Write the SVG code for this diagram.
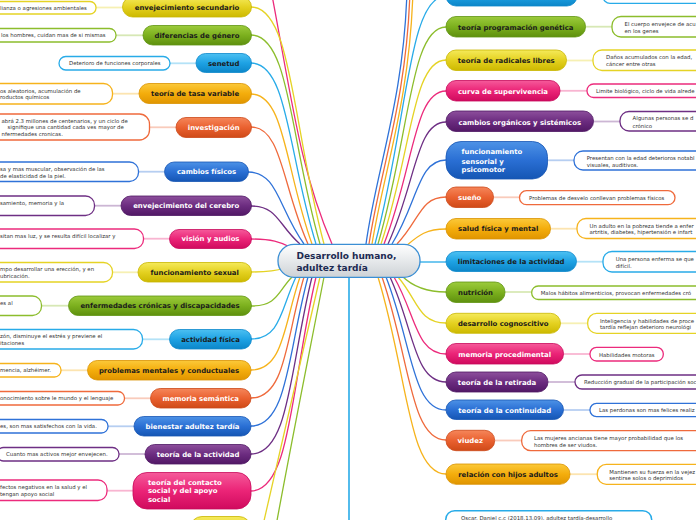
<svg xmlns="http://www.w3.org/2000/svg" width="696" height="520" viewBox="0 0 696 520">
<style>
.t{font-family:"DejaVu Sans",Verdana,sans-serif;font-weight:bold;font-size:6.9px;text-anchor:middle}
.tl{font-family:"DejaVu Sans",Verdana,sans-serif;font-weight:bold;font-size:6.9px}
.dk{fill:#1b1b1b}.wt{fill:#ffffff}
.lt{font-family:"DejaVu Sans",Verdana,sans-serif;font-size:5.4px;fill:#333333}
.leaf{fill:#ffffff;stroke-width:1.3}
.pill{stroke-width:0.8}
.c{fill:none;stroke-width:1.3}
.ll{fill:none;stroke-width:1.8;stroke-opacity:0.35}
.sy{stroke:#e5d325}.sg{stroke:#8cbd2c}.sl{stroke:#28abe8}.so{stroke:#f6b31c}.sr{stroke:#ef6a3c}.sb{stroke:#2f72d8}.sp{stroke:#6e2f84}.sk{stroke:#ec2b7c}
.fy{fill:url(#gy);stroke:#c9b600}.fg{fill:url(#gg);stroke:#5f9412}.fl{fill:url(#gl);stroke:#0d88cc}.fo{fill:url(#go);stroke:#d99200}.fr{fill:url(#gr);stroke:#cc4818}.fb{fill:url(#gb);stroke:#1756b4}.fp{fill:url(#gp);stroke:#4e1763}.fk{fill:url(#gk);stroke:#c8095a}
</style>
<defs>
<linearGradient id="gy" x1="0" y1="0" x2="0" y2="1"><stop offset="0" stop-color="#f5ea5a"/><stop offset="0.5" stop-color="#e4d120"/><stop offset="1" stop-color="#cdb900"/></linearGradient>
<linearGradient id="gg" x1="0" y1="0" x2="0" y2="1"><stop offset="0" stop-color="#9ccb3c"/><stop offset="0.5" stop-color="#7cb01e"/><stop offset="1" stop-color="#5e900e"/></linearGradient>
<linearGradient id="gl" x1="0" y1="0" x2="0" y2="1"><stop offset="0" stop-color="#4cc0f2"/><stop offset="0.5" stop-color="#1ea2e4"/><stop offset="1" stop-color="#0c86c8"/></linearGradient>
<linearGradient id="go" x1="0" y1="0" x2="0" y2="1"><stop offset="0" stop-color="#fbc93a"/><stop offset="0.5" stop-color="#f4ad0c"/><stop offset="1" stop-color="#e09500"/></linearGradient>
<linearGradient id="gr" x1="0" y1="0" x2="0" y2="1"><stop offset="0" stop-color="#f5865a"/><stop offset="0.5" stop-color="#ea6130"/><stop offset="1" stop-color="#cf4a18"/></linearGradient>
<linearGradient id="gb" x1="0" y1="0" x2="0" y2="1"><stop offset="0" stop-color="#4d92e6"/><stop offset="0.5" stop-color="#2a6fd4"/><stop offset="1" stop-color="#1556b4"/></linearGradient>
<linearGradient id="gp" x1="0" y1="0" x2="0" y2="1"><stop offset="0" stop-color="#8d4f9c"/><stop offset="0.5" stop-color="#6c2c80"/><stop offset="1" stop-color="#521866"/></linearGradient>
<linearGradient id="gk" x1="0" y1="0" x2="0" y2="1"><stop offset="0" stop-color="#f55a9a"/><stop offset="0.5" stop-color="#eb2477"/><stop offset="1" stop-color="#d00a5e"/></linearGradient>
<linearGradient id="gc" x1="0" y1="0" x2="0" y2="1"><stop offset="0" stop-color="#ffffff"/><stop offset="0.5" stop-color="#e6e9eb"/><stop offset="1" stop-color="#cdd2d6"/></linearGradient>
</defs>
<rect width="696" height="520" fill="#ffffff"/>
<g id="connectors">
<path class="c sk" d="M271,-10 C292,100 300,170 332,244"/>
<path class="c sy" d="M251,7 C292,7 292,125 324,244"/>
<path class="c sg" d="M251,35 C290,35 290,140 320,244"/>
<path class="c sl" d="M251,63 C288,63 288,154 316,244"/>
<path class="c so" d="M251,94 C285,94 285,169 312,244"/>
<path class="c sr" d="M251,127 C282,127 282,186 308,244"/>
<path class="c sb" d="M248,172 C278,172 278,208 304,244"/>
<path class="c sp" d="M251,206 C278,206 278,225 300,244"/>
<path class="c sk" d="M251,239 C272,239 280,242 290,247"/>
<path class="c sy" d="M251,272 C268,272 276,271 284,268"/>
<path class="c sg" d="M251,306 C278,306 278,291 292,277"/>
<path class="c sl" d="M251,339 C281,339 281,308 296,277"/>
<path class="c so" d="M251,370 C284,370 284,323 300,277"/>
<path class="c sr" d="M251,398 C286,398 286,337 304,277"/>
<path class="c sb" d="M251,426 C288,426 288,351 308,277"/>
<path class="c sp" d="M251,454 C290,454 290,365 312,277"/>
<path class="c sk" d="M251,491 C291,491 291,384 316,277"/>
<path class="c sy" d="M255,560 C268,500 292,400 320,277"/>
<path class="c sg" d="M270,560 C280,500 300,400 324,277"/>
<path class="c sb" d="M407,-10 C404,100 376,170 366,244"/>
<path class="c sr" d="M410,-10 C407,100 380,170 369,244"/>
<path class="c so" d="M413,-10 C410,100 384,170 372,244"/>
<path class="c sl" d="M446,-4 C408,-4 408,120 375,244"/>
<path class="c sg" d="M446,27 C410,27 410,135 378,244"/>
<path class="c sy" d="M446,60 C412,60 412,152 381,244"/>
<path class="c sk" d="M446,91 C414,91 414,167 384,244"/>
<path class="c sp" d="M446,122 C416,122 416,183 388,244"/>
<path class="c sb" d="M446,160 C418,160 418,202 392,244"/>
<path class="c sr" d="M446,197 C420,197 420,220 397,244"/>
<path class="c so" d="M446,229 C425,229 418,236 406,246"/>
<path class="c sl" d="M420,262 L446,262"/>
<path class="c sg" d="M446,292 C425,292 412,286 402,276"/>
<path class="c sy" d="M446,323 C418,323 418,300 398,277"/>
<path class="c sk" d="M446,354 C416,354 416,315 394,277"/>
<path class="c sp" d="M446,382 C414,382 414,329 390,277"/>
<path class="c sb" d="M446,410 C412,410 412,343 386,277"/>
<path class="c sr" d="M446,440 C410,440 410,358 382,277"/>
<path class="c so" d="M446,474 C408,474 408,375 378,277"/>
<path class="c sl" d="M349,277 L349,520" style="stroke-width:1.6"/>
<path class="ll sy" d="M96,7.5 L122.5,7.5"/>
<path class="ll sg" d="M116,35.3 L143,35.3"/>
<path class="ll sl" d="M170,63.3 L196,63.3"/>
<path class="ll so" d="M112.5,93.7 L139,93.7"/>
<path class="ll sr" d="M149.5,127.3 L176,127.3"/>
<path class="ll sb" d="M138.5,171.7 L164.5,171.7"/>
<path class="ll sp" d="M94.5,205.7 L121,205.7"/>
<path class="ll sk" d="M143.5,238.7 L169.5,238.7"/>
<path class="ll sy" d="M112.5,272.3 L138,272.3"/>
<path class="ll sg" d="M41.5,305.7 L68.5,305.7"/>
<path class="ll sl" d="M142.5,339.3 L169.5,339.3"/>
<path class="ll so" d="M61,370.3 L87.5,370.3"/>
<path class="ll sr" d="M124.5,398.3 L150.5,398.3"/>
<path class="ll sb" d="M108,426.3 L134,426.3"/>
<path class="ll sp" d="M119,454 L145,454"/>
<path class="ll sk" d="M107,490.7 L133,490.7"/>
<path class="ll sg" d="M585.5,26.7 L612,26.7"/>
<path class="ll sy" d="M566.5,60.5 L593,60.5"/>
<path class="ll sk" d="M560,90.8 L587,90.8"/>
<path class="ll sp" d="M593.5,121.5 L620,121.5"/>
<path class="ll sb" d="M547.5,160.3 L574,160.3"/>
<path class="ll sr" d="M493.5,197.3 L519.5,197.3"/>
<path class="ll so" d="M550.5,228.7 L577,228.7"/>
<path class="ll sl" d="M576.5,261.7 L603,261.7"/>
<path class="ll sg" d="M505,292 L531.7,292"/>
<path class="ll sy" d="M560.5,323.3 L587.7,323.3"/>
<path class="ll sk" d="M563.5,354 L590,354"/>
<path class="ll sp" d="M548,382 L575,382"/>
<path class="ll sb" d="M563.5,410 L590,410"/>
<path class="ll sr" d="M495,440.5 L521.7,440.5"/>
<path class="ll so" d="M570,474.2 L597.3,474.2"/>
</g>
<g id="center">
<rect x="278" y="244.3" width="142" height="33" rx="16" fill="url(#gc)" stroke="#3b8fd4" stroke-width="1.3"/>
<text x="296.5" y="259.3" style="font-family:'DejaVu Sans',Verdana,sans-serif;font-weight:bold;font-size:9px;fill:#1c2a52">Desarrollo humano,</text>
<text x="296.5" y="270.6" style="font-family:'DejaVu Sans',Verdana,sans-serif;font-weight:bold;font-size:9px;fill:#1c2a52">adultez tardía</text>
</g>
<g id="n-env-sec">
<rect class="pill fy" x="122.5" y="-3" width="129" height="20" rx="10"/>
<text class="t dk" x="187" y="9.8">envejecimiento secundario</text>
<rect class="leaf sy" x="-20" y="1.5" width="116" height="12.5" rx="6"/>
<text class="lt" x="0" y="9.6">lianza o agresiones ambientales</text>
</g>
<g id="n-dif-genero">
<rect class="pill fg" x="143" y="25.5" width="108.5" height="19.5" rx="9.75"/>
<text class="t dk" x="197" y="37.8">diferencias de género</text>
<rect class="leaf sg" x="-20" y="28.5" width="136" height="13.5" rx="6.5"/>
<text class="lt" x="1" y="37.2">los hombres, cuidan mas de si mismas</text>
</g>
<g id="n-senetud">
<rect class="pill fl" x="196" y="53.5" width="55.5" height="19" rx="9.5"/>
<text class="t dk" x="223.7" y="65.8">senetud</text>
<rect class="leaf sl" x="59" y="56.5" width="111" height="13.5" rx="6.75"/>
<text class="lt" x="69" y="65.1">Deterioro de funciones corporales</text>
</g>
<g id="n-tasa-variable">
<rect class="pill fo" x="139" y="83.5" width="112.5" height="20" rx="10"/>
<text class="t dk" x="195" y="96.2">teoría de tasa variable</text>
<rect class="leaf so" x="-20" y="83.5" width="132.5" height="20.5" rx="9"/>
<text class="lt" x="0" y="92.6">os aleatorios, acumulación de</text>
<text class="lt" x="0" y="99.3">roductos químicos</text>
</g>
<g id="n-investigacion">
<rect class="pill fr" x="176" y="117.5" width="75.5" height="20" rx="10"/>
<text class="t wt" x="213.7" y="129.8">investigación</text>
<rect class="leaf sr" x="-20" y="114" width="169.5" height="26" rx="10"/>
<text class="lt" x="1.5" y="122.6">abrá 2.3 millones de centenarios, y un ciclo de</text>
<text class="lt" x="7.5" y="129.2">signifique una cantidad cada ves mayor de</text>
<text class="lt" x="1.5" y="136.2">nfermedades cronicas.</text>
</g>
<g id="n-cambios-fisicos">
<rect class="pill fb" x="164.5" y="162" width="84" height="19.5" rx="9.75"/>
<text class="t wt" x="206.5" y="174.2">cambios físicos</text>
<rect class="leaf sb" x="-20" y="162" width="158.5" height="19.5" rx="9"/>
<text class="lt" x="0" y="171.2">sa y mas muscular, observación de las</text>
<text class="lt" x="0" y="177.8">de elasticidad de la piel.</text>
</g>
<g id="n-env-cerebro">
<rect class="pill fp" x="121" y="196" width="130.5" height="19.5" rx="9.75"/>
<text class="t wt" x="186.2" y="208.2">envejecimiento del cerebro</text>
<rect class="leaf sp" x="-20" y="196" width="114.5" height="19.5" rx="9"/>
<text class="lt" x="0" y="205">samiento, memoria y la</text>
</g>
<g id="n-vision">
<rect class="pill fk" x="169.5" y="229.5" width="82" height="19" rx="9.5"/>
<text class="t wt" x="210.5" y="241.2">visión y audios</text>
<rect class="leaf sk" x="-20" y="229" width="163.5" height="19.5" rx="9"/>
<text class="lt" x="0" y="238">sitan mas luz, y se resulta difícil localizar y</text>
</g>
<g id="n-func-sexual">
<rect class="pill fy" x="138" y="262.5" width="113.5" height="19.5" rx="9.75"/>
<text class="t dk" x="194.7" y="274.8">funcionamiento sexual</text>
<rect class="leaf sy" x="-20" y="262.5" width="132.5" height="19.5" rx="9"/>
<text class="lt" x="0" y="270.9">mpo desarrollar una erección, y en</text>
<text class="lt" x="0" y="277.9">ubricación.</text>
</g>
<g id="n-enf-cronicas">
<rect class="pill fg" x="68.5" y="296" width="183" height="19.5" rx="9.75"/>
<text class="t dk" x="160" y="308.2">enfermedades crónicas y discapacidades</text>
<rect class="leaf sg" x="-20" y="296" width="61.5" height="19.5" rx="9"/>
<text class="lt" x="0" y="304.6">es al</text>
</g>
<g id="n-actividad-fisica">
<rect class="pill fl" x="169.5" y="329.5" width="82" height="19.5" rx="9.75"/>
<text class="t dk" x="210.5" y="341.8">actividad física</text>
<rect class="leaf sl" x="-20" y="329.5" width="162.5" height="19.5" rx="9"/>
<text class="lt" x="0" y="337.9">zón, disminuye el estrés y previene el</text>
<text class="lt" x="0" y="344.6">itaciones</text>
</g>
<g id="n-prob-mentales">
<rect class="pill fo" x="87.5" y="360.5" width="163.5" height="19.5" rx="9.75"/>
<text class="t dk" x="169" y="372.8">problemas mentales y conductuales</text>
<rect class="leaf so" x="-20" y="363.5" width="81" height="13.5" rx="6.5"/>
<text class="lt" x="0" y="372.2">mencia, alzhéimer.</text>
</g>
<g id="n-mem-semantica">
<rect class="pill fr" x="150.5" y="388.5" width="100.5" height="19.5" rx="9.75"/>
<text class="t wt" x="200.7" y="400.8">memoria semántica</text>
<rect class="leaf sr" x="-20" y="391.5" width="144.5" height="13.5" rx="6.5"/>
<text class="lt" x="0" y="400.2">onocimiento sobre le mundo y el lenguaje</text>
</g>
<g id="n-bienestar">
<rect class="pill fb" x="134" y="416.5" width="117" height="19.5" rx="9.75"/>
<text class="t wt" x="192.5" y="428.8">bienestar adultez tardía</text>
<rect class="leaf sb" x="-20" y="419.5" width="128" height="13.5" rx="6.5"/>
<text class="lt" x="0" y="428.2">es, son mas satisfechos con la vida.</text>
</g>
<g id="n-teoria-actividad">
<rect class="pill fp" x="145" y="444.5" width="106" height="19.5" rx="9.75"/>
<text class="t wt" x="198" y="456.5">teoría de la actividad</text>
<rect class="leaf sp" x="-3" y="447.5" width="122" height="13.5" rx="6.5"/>
<text class="lt" x="6" y="456">Cuanto mas activos mejor envejecen.</text>
</g>
<g id="n-contacto-social">
<rect class="pill fk" x="133" y="472.5" width="118" height="36.5" rx="14"/>
<text class="tl wt" x="148" y="485.2">teoría del contacto</text>
<text class="tl wt" x="148" y="493.2">social y del apoyo</text>
<text class="tl wt" x="148" y="501.8">social</text>
<rect class="leaf sk" x="-20" y="480" width="127" height="20.5" rx="9"/>
<text class="lt" x="0" y="489.2">fectos negativos en la salud y el</text>
<text class="lt" x="0" y="496.2">tengan apoyo social</text>
</g>
<g id="n-bottom-left">
<rect class="pill fy" x="190" y="516.5" width="61" height="40" rx="12"/>
</g>
<g id="n-top-right">
<rect class="pill fl" x="446" y="-14" width="131" height="20" rx="10"/>
<rect class="leaf sl" x="603" y="-12" width="120" height="15.3" rx="7"/>
</g>
<g id="n-prog-genetica">
<rect class="pill fg" x="446" y="16.5" width="139.5" height="20.5" rx="10"/>
<text class="t dk" x="515.7" y="29.8">teoría programación genética</text>
<rect class="leaf sg" x="612" y="16.5" width="120" height="20.5" rx="9"/>
<text class="lt" x="624.5" y="25.9">El cuerpo envejece de acu</text>
<text class="lt" x="624.5" y="32.9">en los genes</text>
</g>
<g id="n-radicales">
<rect class="pill fy" x="446" y="50" width="120.5" height="20.5" rx="10"/>
<text class="t dk" x="506.2" y="63.2">teoría de radicales libres</text>
<rect class="leaf sy" x="593" y="50" width="130" height="20.5" rx="9"/>
<text class="lt" x="606" y="59.2">Daños acumulados con la edad,</text>
<text class="lt" x="606" y="66">cáncer entre otras</text>
</g>
<g id="n-curva">
<rect class="pill fk" x="446" y="80.5" width="114" height="20.5" rx="10"/>
<text class="t wt" x="503" y="93.5">curva de supervivencia</text>
<rect class="leaf sk" x="587" y="84" width="120" height="13.5" rx="6.5"/>
<text class="lt" x="596" y="92.8">Limite biológico, ciclo de vida alrede</text>
</g>
<g id="n-cambios-organicos">
<rect class="pill fp" x="446" y="111" width="147.5" height="20.5" rx="10"/>
<text class="t wt" x="519.7" y="124.5">cambios orgánicos y sistémicos</text>
<rect class="leaf sp" x="620" y="111.5" width="100" height="19.5" rx="9"/>
<text class="lt" x="632.5" y="120.2">Algunas personas se d</text>
<text class="lt" x="632.5" y="127.9">crónico</text>
</g>
<g id="n-sensorial">
<rect class="pill fb" x="446" y="141.5" width="101.5" height="37.5" rx="15"/>
<text class="tl wt" x="461.5" y="154.2">funcionamiento</text>
<text class="tl wt" x="461.5" y="163.5">sensorial y</text>
<text class="tl wt" x="461.5" y="171.8">psicomotor</text>
<rect class="leaf sb" x="574" y="151" width="140" height="19" rx="9"/>
<text class="lt" x="586.7" y="160.2">Presentan con la edad deterioros notabl</text>
<text class="lt" x="586.7" y="166.9">visuales, auditivos.</text>
</g>
<g id="n-sueno">
<rect class="pill fr" x="446" y="187" width="47.5" height="20.5" rx="10"/>
<text class="t wt" x="469.7" y="199.8">sueño</text>
<rect class="leaf sr" x="519.5" y="190.7" width="155.5" height="14" rx="7"/>
<text class="lt" x="529" y="199.6">Problemas de desvelo conllevan problemas físicos</text>
</g>
<g id="n-salud">
<rect class="pill fo" x="446" y="218.5" width="104.5" height="20.5" rx="10"/>
<text class="t dk" x="498.2" y="231.2">salud física y mental</text>
<rect class="leaf so" x="577" y="218.5" width="140" height="20" rx="9"/>
<text class="lt" x="589.5" y="227.6">Un adulto en la pobreza tiende a enfer</text>
<text class="lt" x="589.5" y="234.2">artritis, diabetes, hipertensión e infart</text>
</g>
<g id="n-limitaciones">
<rect class="pill fl" x="446" y="251.5" width="130.5" height="20" rx="10"/>
<text class="t dk" x="511.2" y="264.2">limitaciones de la actividad</text>
<rect class="leaf sl" x="603" y="251.5" width="120" height="20.5" rx="9"/>
<text class="lt" x="615.7" y="260.8">Una persona enferma se que</text>
<text class="lt" x="615.7" y="267.6">difícil.</text>
</g>
<g id="n-nutricion">
<rect class="pill fg" x="446" y="282" width="59" height="20.5" rx="10"/>
<text class="t dk" x="475.5" y="294.5">nutrición</text>
<rect class="leaf sg" x="531.7" y="286" width="180" height="13.5" rx="6.5"/>
<text class="lt" x="540.7" y="294.6">Malos hábitos alimenticios, provocan enfermedades cró</text>
</g>
<g id="n-desarrollo">
<rect class="pill fy" x="446" y="313.3" width="114.5" height="20" rx="10"/>
<text class="t dk" x="503.2" y="325.8">desarrollo cognoscitivo</text>
<rect class="leaf sy" x="587.7" y="313.3" width="130" height="20" rx="9"/>
<text class="lt" x="600" y="322.6">Inteligencia y habilidades de proce</text>
<text class="lt" x="600" y="328.9">tardía  reflejan deterioro neurológi</text>
</g>
<g id="n-memoria-proc">
<rect class="pill fk" x="446" y="343.5" width="117.5" height="20.5" rx="10"/>
<text class="t wt" x="504.7" y="356.5">memoria procedimental</text>
<rect class="leaf sk" x="590" y="347.3" width="73.3" height="13.7" rx="6.5"/>
<text class="lt" x="599" y="356.9">Habilidades motoras</text>
</g>
<g id="n-retirada">
<rect class="pill fp" x="446" y="372" width="102" height="20" rx="10"/>
<text class="t wt" x="497" y="384.8">teoría de la retirada</text>
<rect class="leaf sp" x="575" y="375" width="140" height="14" rx="7"/>
<text class="lt" x="584" y="384.2">Reducción gradual de la participación soc</text>
</g>
<g id="n-continuidad">
<rect class="pill fb" x="446" y="400" width="117.5" height="19.5" rx="9.75"/>
<text class="t wt" x="504.7" y="412.5">teoría de la continuidad</text>
<rect class="leaf sb" x="590" y="403.3" width="120" height="13.4" rx="6.5"/>
<text class="lt" x="599" y="412.2">Las perdonas son mas felices realiz</text>
</g>
<g id="n-viudez">
<rect class="pill fr" x="446" y="430.3" width="48.7" height="20.4" rx="10"/>
<text class="t wt" x="470.3" y="443.2">viudez</text>
<rect class="leaf sr" x="521.7" y="430.7" width="190" height="20" rx="9"/>
<text class="lt" x="534" y="440.2">Las mujeres ancianas tiene mayor probabilidad que los</text>
<text class="lt" x="534" y="446.9">hombres de ser viudos.</text>
</g>
<g id="n-hijos-adultos">
<rect class="pill fo" x="446" y="464" width="124" height="20.3" rx="10"/>
<text class="t dk" x="508" y="476.7">relación con hijos adultos</text>
<rect class="leaf so" x="597.3" y="464.3" width="130" height="20" rx="9"/>
<text class="lt" x="609.3" y="473.6">Mantienen su fuerza en la vejez</text>
<text class="lt" x="609.3" y="480.2">sentirse solos o deprimidos</text>
</g>
<g id="n-referencia">
<rect class="leaf sl" x="445.7" y="510.7" width="206" height="30" rx="9" style="stroke-width:1.5"/>
<text class="lt" x="461" y="519.6">Oscar. Daniel c.c (2018.13.09). adultez tardía-desarrollo</text>
</g>
</svg>
